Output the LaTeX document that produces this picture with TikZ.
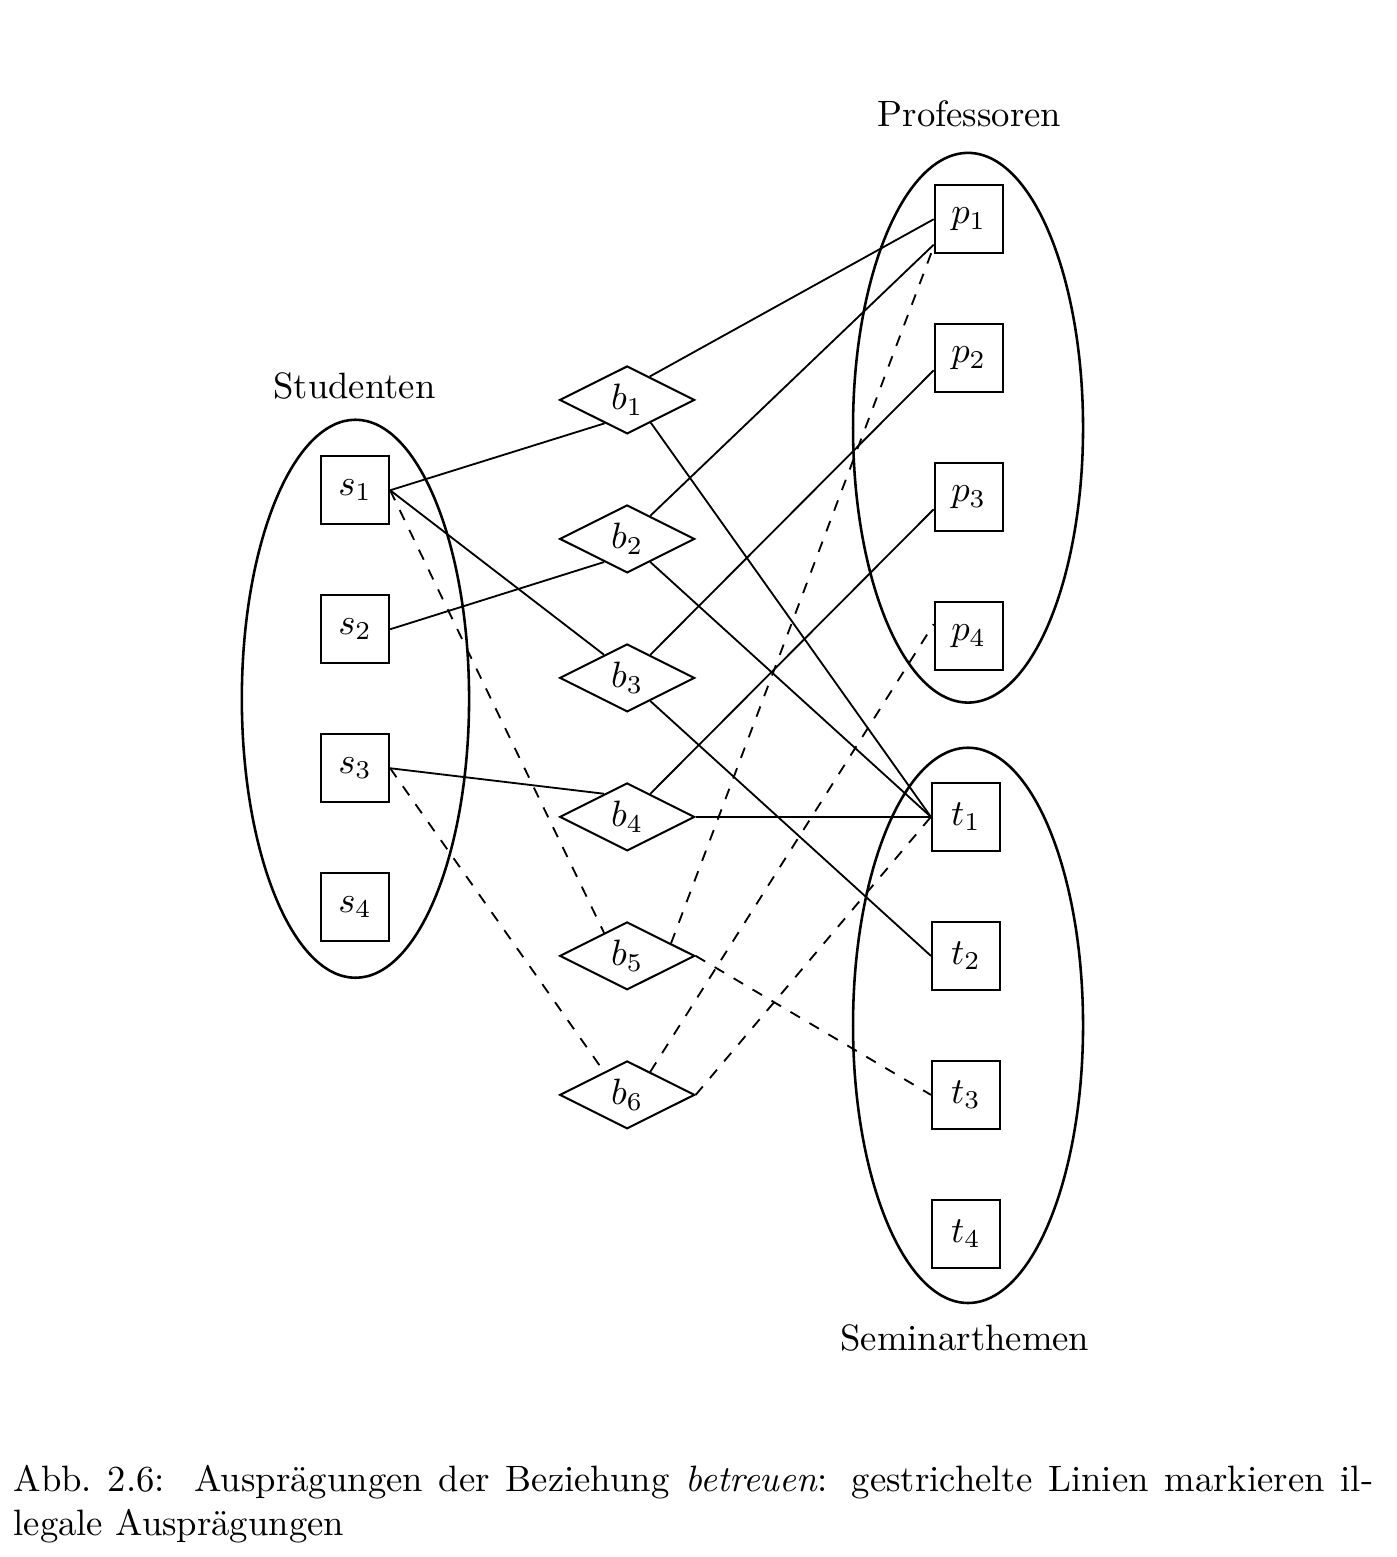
\documentclass[tikz,border=0pt]{standalone}
\usepackage{amsmath}
\usepackage{tikz}
\usetikzlibrary{shapes.geometric}

\begin{document}
\begin{tikzpicture}[x=9.47pt,y=9.47pt,
    entity/.style={draw,line width=.6pt,minimum width=18.5pt,minimum height=18.5pt,inner sep=0pt},
    relation/.style={draw,line width=.55pt,shape=diamond,aspect=2,minimum width=36.8pt,minimum height=18.5pt,inner sep=0pt},
    entityset/.style={line width=.7pt},
    link/.style={line width=.5pt},
    illegal/.style={link,dashed}]
    \useasboundingbox (0,0) rectangle (40.2,44.81);
    % \draw[step=1,color=gray!40] (0,0) grid (40,44);
    \draw[entityset] (10.23,24.7) ellipse (3.27 and 8.03);
    \draw[entityset] (27.86,32.5) ellipse (3.31 and 7.91);
    \draw[entityset] (27.86,15.3) ellipse (3.31 and 7.99);
    \node (studenten) at (10.2,33.7) {Studenten};
    \node (professoren) at (27.9,41.55) {Professoren};
    \node (seminarthemen) at (27.77,6.3) {Seminarthemen};
    \foreach \y/\i in {30.7/1,26.7/2,22.7/3,18.7/4}{
        \node[entity] (s\i) at (10.22,\y) {$s_\i$};
    }
    \foreach \y/\i in {33.3/1,29.3/2,25.3/3,21.3/4,17.3/5,13.3/6}{
        \node[relation] (b\i) at (18.05,\y) {$b_\i$};
    }
    \foreach \y/\i in {38.5/1,34.5/2,30.5/3,26.5/4}{
        \node[entity] (p\i) at (27.88,\y) {$p_\i$};
    }
    \foreach \y/\i in {21.3/1,17.3/2,13.3/3,9.3/4}{
        \node[entity] (t\i) at (27.8,\y) {$t_\i$};
    }
    % legale Auspraegungen
    \foreach \from/\to in {s1.east/b1.226,b1.46/p1.west,b1.316/t1.west,
        s2.east/b2.225,b2.45/p1.216,b2.315/t1.west,
        s1.east/b3.135,b3.45/p2.199,b3.315/t2.west,
        s3.east/b4.135,b4.45/p3.199,b4.east/t1.west} {
        \draw[link] (\from)--(\to);
    }
    % illegale Auspraegungen
    \foreach \from/\to in {s1.east/b5.135,b5.16/p1.218,b5.east/t3.west,
        s3.east/b6.135,b6.45/p4.161,b6.east/t1.west} {
        \draw[illegal] (\from)--(\to);
    }
    \node[anchor=north west,inner sep=0pt,text width=370.6pt,align=justify] (caption) at (0.37,2.66)
        {Abb.~2.6:\hskip 8pt Ausprägungen der Beziehung \emph{betreuen}: gestrichelte Linien markieren il-\linebreak legale Ausprägungen};
\end{tikzpicture}
\end{document}
